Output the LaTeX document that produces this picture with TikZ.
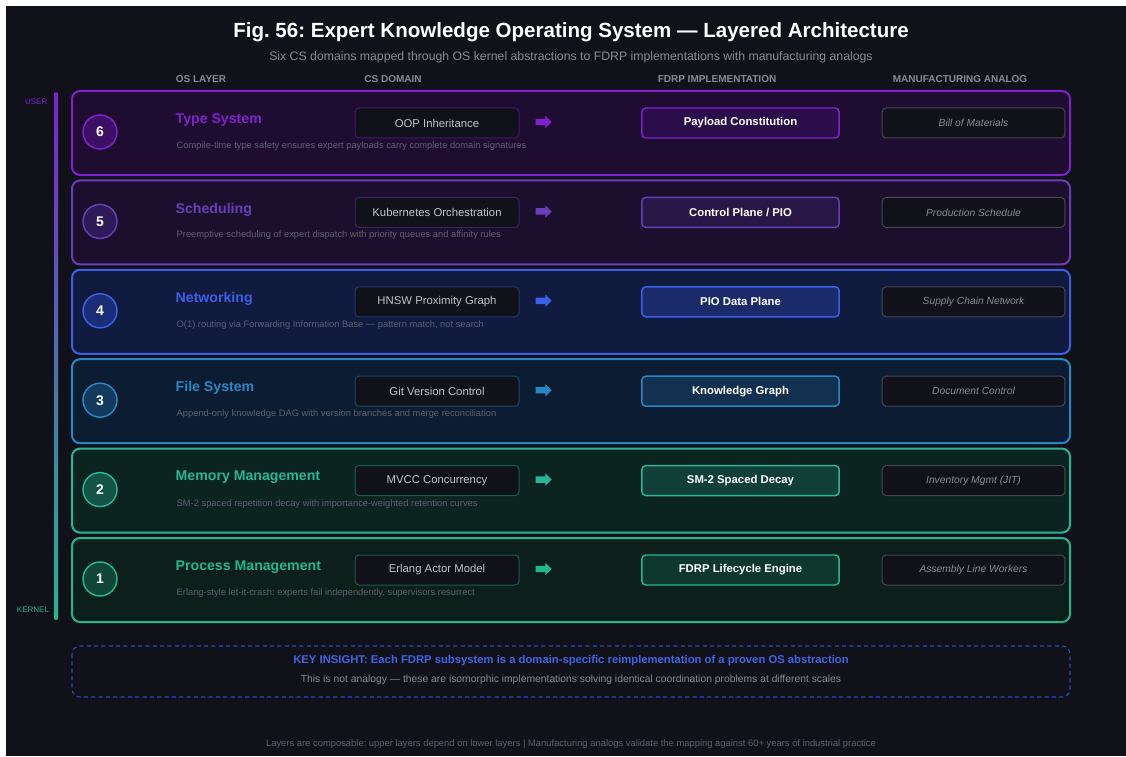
\documentclass[tikz,border=0pt]{standalone}
\usepackage{fontspec}
\setmainfont{Liberation Sans}
\usetikzlibrary{shapes.arrows}
\frenchspacing

\definecolor{bg}{HTML}{101119}
\definecolor{muted}{HTML}{8A8A96}
\definecolor{dim}{HTML}{5E5F6E}
\definecolor{cstext}{HTML}{C2C2CA}
\definecolor{mfgline}{HTML}{45464F}
\definecolor{insight}{HTML}{3048B8}
\definecolor{insighttext}{HTML}{4263E6}
% layer colours: edge, back, disc, core
\definecolor{edge6}{HTML}{7E22CE}\definecolor{back6}{HTML}{1E0C31}\definecolor{disc6}{HTML}{3B1064}\definecolor{core6}{HTML}{2C0D4B}
\definecolor{edge5}{HTML}{6A3DB8}\definecolor{back5}{HTML}{1C0F2D}\definecolor{disc5}{HTML}{2E1A58}\definecolor{core5}{HTML}{281746}
\definecolor{edge4}{HTML}{3B5FE6}\definecolor{back4}{HTML}{111B40}\definecolor{disc4}{HTML}{1C2D78}\definecolor{core4}{HTML}{1B2A6A}
\definecolor{edge3}{HTML}{2B86C5}\definecolor{back3}{HTML}{0C1D33}\definecolor{disc3}{HTML}{133A5E}\definecolor{core3}{HTML}{12304F}
\definecolor{edge2}{HTML}{2BB597}\definecolor{back2}{HTML}{0B2420}\definecolor{disc2}{HTML}{135446}\definecolor{core2}{HTML}{103F38}
\definecolor{edge1}{HTML}{22B88E}\definecolor{back1}{HTML}{0C1F1A}\definecolor{disc1}{HTML}{114538}\definecolor{core1}{HTML}{0E382E}

\begin{document}
\begin{tikzpicture}[
    x=0.75pt, y=-0.75pt,
    head/.style={font=\fontsize{7.5}{9}\selectfont\bfseries, text=muted},
    badge/.style={circle, minimum size=25.5pt, inner sep=0pt, line width=1.1pt, text=white,
      font=\fontsize{10.5}{12}\selectfont\bfseries},
    csbox/.style={rounded corners=3pt, fill=bg, line width=0.75pt, minimum width=123pt,
      minimum height=22.5pt, text=cstext, font=\fontsize{8.5}{10}\selectfont},
    implbox/.style={rounded corners=3pt, line width=1.1pt, minimum width=148pt,
      minimum height=22.5pt, text=white, font=\fontsize{8.5}{10}\selectfont\bfseries},
    mfgbox/.style={draw=mfgline, rounded corners=3pt, fill=bg, line width=0.75pt,
      minimum width=137pt, minimum height=22.5pt, text=muted, font=\fontsize{7.7}{9}\selectfont\itshape},
    flow/.style={single arrow, single arrow head extend=2.3pt, minimum height=12pt,
      inner xsep=0pt, inner ysep=2.2pt},
    font=\fontsize{9}{11}\selectfont
  ]

  %% ---- Canvas ----
  \useasboundingbox (0,0) rectangle (1126,756);
  \fill[white] (0,0) rectangle (1126,756);
  \fill[bg] (6,6) rectangle (1126,756);

  %% ---- Title and column heads ----
  \node[text=white, font=\fontsize{15.4}{18}\selectfont\bfseries] (title) at (571,32)
    {Fig.~56: Expert Knowledge Operating System --- Layered Architecture};
  \node[text=muted, font=\fontsize{9.2}{11}\selectfont] (subtitle) at (571,57)
    {Six CS domains mapped through OS kernel abstractions to FDRP implementations with manufacturing analogs};

  \node[head] (hlayer) at (201,79) {OS LAYER};
  \node[head] (hcs) at (393,79) {CS DOMAIN};
  \node[head] (himpl) at (717,79) {FDRP IMPLEMENTATION};
  \node[head] (hmfg) at (960,79) {MANUFACTURING ANALOG};

  %% ---- Stack bar (user -> kernel) ----
  \shade[top color=edge6, middle color=edge4!80!edge3, bottom color=edge1, rounded corners=1.5pt]
    (54,92) rectangle (58,620);
  \node[anchor=east, text=edge6, font=\fontsize{6}{7}\selectfont] (user) at (52,102) {USER};
  \node[text=edge1, font=\fontsize{6}{7}\selectfont] (kernel) at (33,610) {KERNEL};

  %% ---- Layers, top (6) to bottom (1) ----
  \foreach \n/\ttl/\dsc/\cs/\impl/\mfg in {
      6/{Type System}/{Compile-time type safety ensures expert payloads carry complete domain signatures}/{OOP Inheritance}/{Payload Constitution}/{Bill of Materials},
      5/{Scheduling}/{Preemptive scheduling of expert dispatch with priority queues and affinity rules}/{Kubernetes Orchestration}/{Control Plane / PIO}/{Production Schedule},
      4/{Networking}/{O(1) routing via Forwarding Information Base --- pattern match, not search}/{HNSW Proximity Graph}/{PIO Data Plane}/{Supply Chain Network},
      3/{File System}/{Append-only knowledge DAG with version branches and merge reconciliation}/{Git Version Control}/{Knowledge Graph}/{Document Control},
      2/{Memory Management}/{SM-2 spaced repetition decay with importance-weighted retention curves}/{MVCC Concurrency}/{SM-2 Spaced Decay}/{Inventory Mgmt (JIT)},
      1/{Process Management}/{Erlang-style let-it-crash: experts fail independently, supervisors resurrect}/{Erlang Actor Model}/{FDRP Lifecycle Engine}/{Assembly Line Workers}}
  {
    \pgfmathsetmacro\ty{91+(6-\n)*89.4}
    % layer panel
    \draw[draw=edge\n, fill=back\n, line width=1.5pt, rounded corners=6pt]
      (72,\ty) rectangle (1070,{\ty+84});
    % number, name and note
    \node[badge, draw=edge\n, fill=disc\n] (badge\n) at (100,{\ty+41}) {\n};
    \node[anchor=west, text=edge\n, font=\fontsize{10.6}{13}\selectfont\bfseries] (name\n)
      at (171,{\ty+29}) {\ttl};
    \node[anchor=west, text=dim, font=\fontsize{7}{8}\selectfont] (note\n)
      at (172,{\ty+55}) {\dsc};
    % cs domain -> fdrp -> manufacturing
    \node[csbox, draw=edge\n!45!bg] (cs\n) at (437,{\ty+32}) {\cs};
    \node[flow, fill=edge\n] (flow\n) at (542,{\ty+31}) {};
    \node[implbox, draw=edge\n, fill=core\n] (impl\n) at (740.5,{\ty+32}) {\impl};
    \node[mfgbox] (mfg\n) at (973.5,{\ty+32}) {\mfg};
  }

  %% ---- Key insight ----
  \draw[draw=insight, line width=0.9pt, dash pattern=on 3pt off 2.5pt, rounded corners=6pt]
    (72,646) rectangle (1070,697);
  \node[text=insighttext, font=\fontsize{8.45}{10}\selectfont\bfseries] (keytitle) at (571,661)
    {KEY INSIGHT: Each FDRP subsystem is a domain-specific reimplementation of a proven OS abstraction};
  \node[text=muted, font=\fontsize{7.75}{9}\selectfont] (keytext) at (571,680)
    {This is not analogy --- these are isomorphic implementations solving identical coordination problems at different scales};

  %% ---- Footer ----
  \node[text=dim, font=\fontsize{7.05}{9}\selectfont] (foot) at (571,744)
    {Layers are composable: upper layers depend on lower layers | Manufacturing analogs validate the mapping against 60+ years of industrial practice};

\end{tikzpicture}
\end{document}
